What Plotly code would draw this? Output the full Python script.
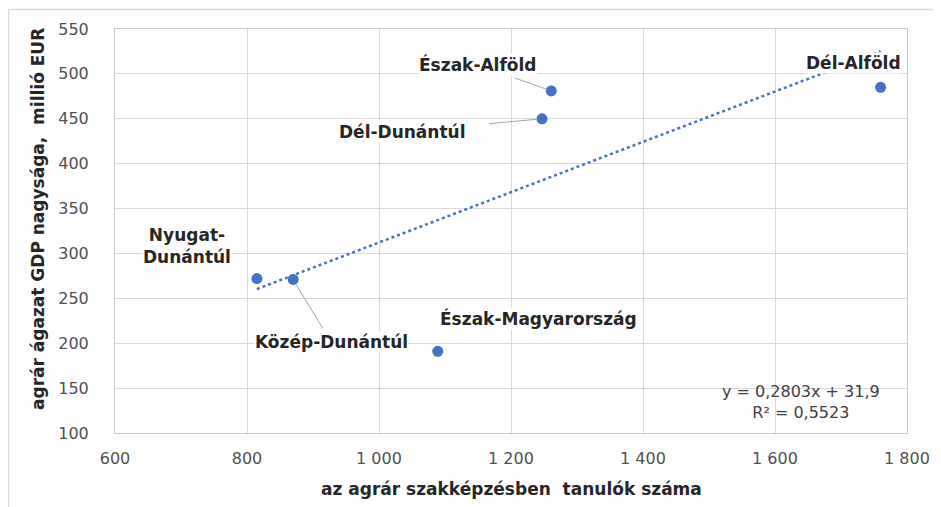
import plotly.graph_objects as go
import numpy as np

# ---- data ----
regions = ["Nyugat-Dunántúl", "Közép-Dunántúl", "Észak-Magyarország",
           "Dél-Dunántúl", "Észak-Alföld", "Dél-Alföld"]
students = [815, 870, 1089, 1247, 1261, 1760]
gdp = [272, 271, 191, 450, 481, 485]
trend_slope = 0.2803
trend_intercept = 31.9
equation_text = "y = 0,2803x + 31,9<br>R² = 0,5523"
x_ticks = [600, 800, 1000, 1200, 1400, 1600, 1800]
x_tick_labels = ["600", "800", "1 000", "1 200", "1 400", "1 600", "1 800"]
y_ticks = [100, 150, 200, 250, 300, 350, 400, 450, 500, 550]
x_title = "az agrár szakképzésben  tanulók száma"
y_title = "agrár ágazat GDP nagysága,  millió EUR"

# ---- layout constants (page pixel coordinates; page body has 8px margin) ----
PAGE_W, PAGE_H = 941, 507
OFF = 8
PL, PR, PT, PB = 115, 907, 29, 433   # plot area in page coords
W, H = PAGE_W - OFF, PAGE_H - OFF
L, T = PL - OFF, PT - OFF
R, B = PAGE_W - PR, PAGE_H - PB
pw, ph = PR - PL, PB - PT
FONT = "DejaVu Sans"
BLUE = "#4472C4"


def px(xp):
    return (xp - PL) / pw


def py(yp):
    return (PB - yp) / ph


tx = np.array([min(students), max(students)], dtype=float)
ty = trend_slope * tx + trend_intercept

fig = go.Figure()
fig.add_trace(go.Scatter(x=tx, y=ty, mode="lines",
                         line=dict(color=BLUE, width=2.5, dash="dot"),
                         hoverinfo="skip", showlegend=False))
fig.add_trace(go.Scatter(x=students, y=gdp, mode="markers",
                         marker=dict(color=BLUE, size=11),
                         showlegend=False))

label_font = dict(family=FONT, size=17, color="#262626", weight="bold")

# label placement (pixel offsets from the point)
label_cfg = {
    "Nyugat-Dunántúl": dict(text="Nyugat-<br>Dunántúl", arrow=False, dx=-70, dy=-33),
    "Közép-Dunántúl": dict(text="Közép-Dunántúl", arrow=True, dx=38, dy=63, gap=4),
    "Észak-Magyarország": dict(text="Észak-Magyarország", arrow=False, dx=101, dy=-33),
    "Dél-Dunántúl": dict(text="Dél-Dunántúl", arrow=True, dx=-140, dy=13, gap=24),
    "Észak-Alföld": dict(text="Észak-Alföld", arrow=True, dx=-73, dy=-26, gap=6),
    "Dél-Alföld": dict(text="Dél-Alföld", arrow=False, dx=-27, dy=-24),
}
for name, xv, yv in zip(regions, students, gdp):
    c = label_cfg[name]
    if c["arrow"]:
        fig.add_annotation(x=xv, y=yv, text=c["text"], showarrow=True,
                           ax=c["dx"], ay=c["dy"], arrowhead=0, arrowwidth=1,
                           arrowcolor="#A6A6A6", standoff=6,
                           startstandoff=c["gap"],
                           font=label_font, bgcolor="white", borderpad=0)
    else:
        fig.add_annotation(x=xv, y=yv, text=c["text"], showarrow=False,
                           xshift=c["dx"], yshift=-c["dy"],
                           font=label_font, bgcolor="white", borderpad=0)

# equation
fig.add_annotation(xref="paper", yref="paper",
                   x=px(801), y=py(402),
                   text=equation_text, showarrow=False, align="center",
                   font=dict(family=FONT, size=16, color="#404040"),
                   xanchor="center", yanchor="middle")

# y axis title
fig.add_annotation(xref="paper", yref="paper",
                   x=px(38), y=py(219),
                   text=y_title, textangle=-90, showarrow=False,
                   font=dict(family=FONT, size=17, color="#262626", weight="bold"),
                   xanchor="center", yanchor="middle")
# x axis title
fig.add_annotation(xref="paper", yref="paper",
                   x=px(511), y=py(489),
                   text=x_title, showarrow=False,
                   font=dict(family=FONT, size=17, color="#262626", weight="bold"),
                   xanchor="center", yanchor="middle")

# outer chart border (left and top visible)
fig.add_shape(type="line", xref="paper", yref="paper",
              x0=px(8.5), x1=px(8.5), y0=py(9.5), y1=py(520),
              line=dict(color="#D9D9D9", width=1.5))
fig.add_shape(type="line", xref="paper", yref="paper",
              x0=px(8.5), x1=px(960), y0=py(9.5), y1=py(9.5),
              line=dict(color="#D9D9D9", width=1.5))

fig.update_xaxes(range=[600, 1800], tickvals=x_ticks, ticktext=x_tick_labels,
                 showgrid=True, gridcolor="#D9D9D9", gridwidth=1,
                 showline=True, linecolor="#C8C8C8", mirror=True,
                 zeroline=False, ticks="", ticklabelstandoff=11,
                 tickfont=dict(family=FONT, size=16, color="#505050"))
fig.update_yaxes(range=[100, 550], tickvals=y_ticks,
                 showgrid=True, gridcolor="#D9D9D9", gridwidth=1,
                 showline=True, linecolor="#C8C8C8", mirror=True,
                 zeroline=False, ticks="", ticklabelstandoff=22,
                 tickfont=dict(family=FONT, size=16, color="#505050"))

fig.update_layout(width=W, height=H,
                  margin=dict(l=L, r=R, t=T, b=B, autoexpand=False),
                  paper_bgcolor="white", plot_bgcolor="white",
                  showlegend=False)

fig.write_html("out.html")
